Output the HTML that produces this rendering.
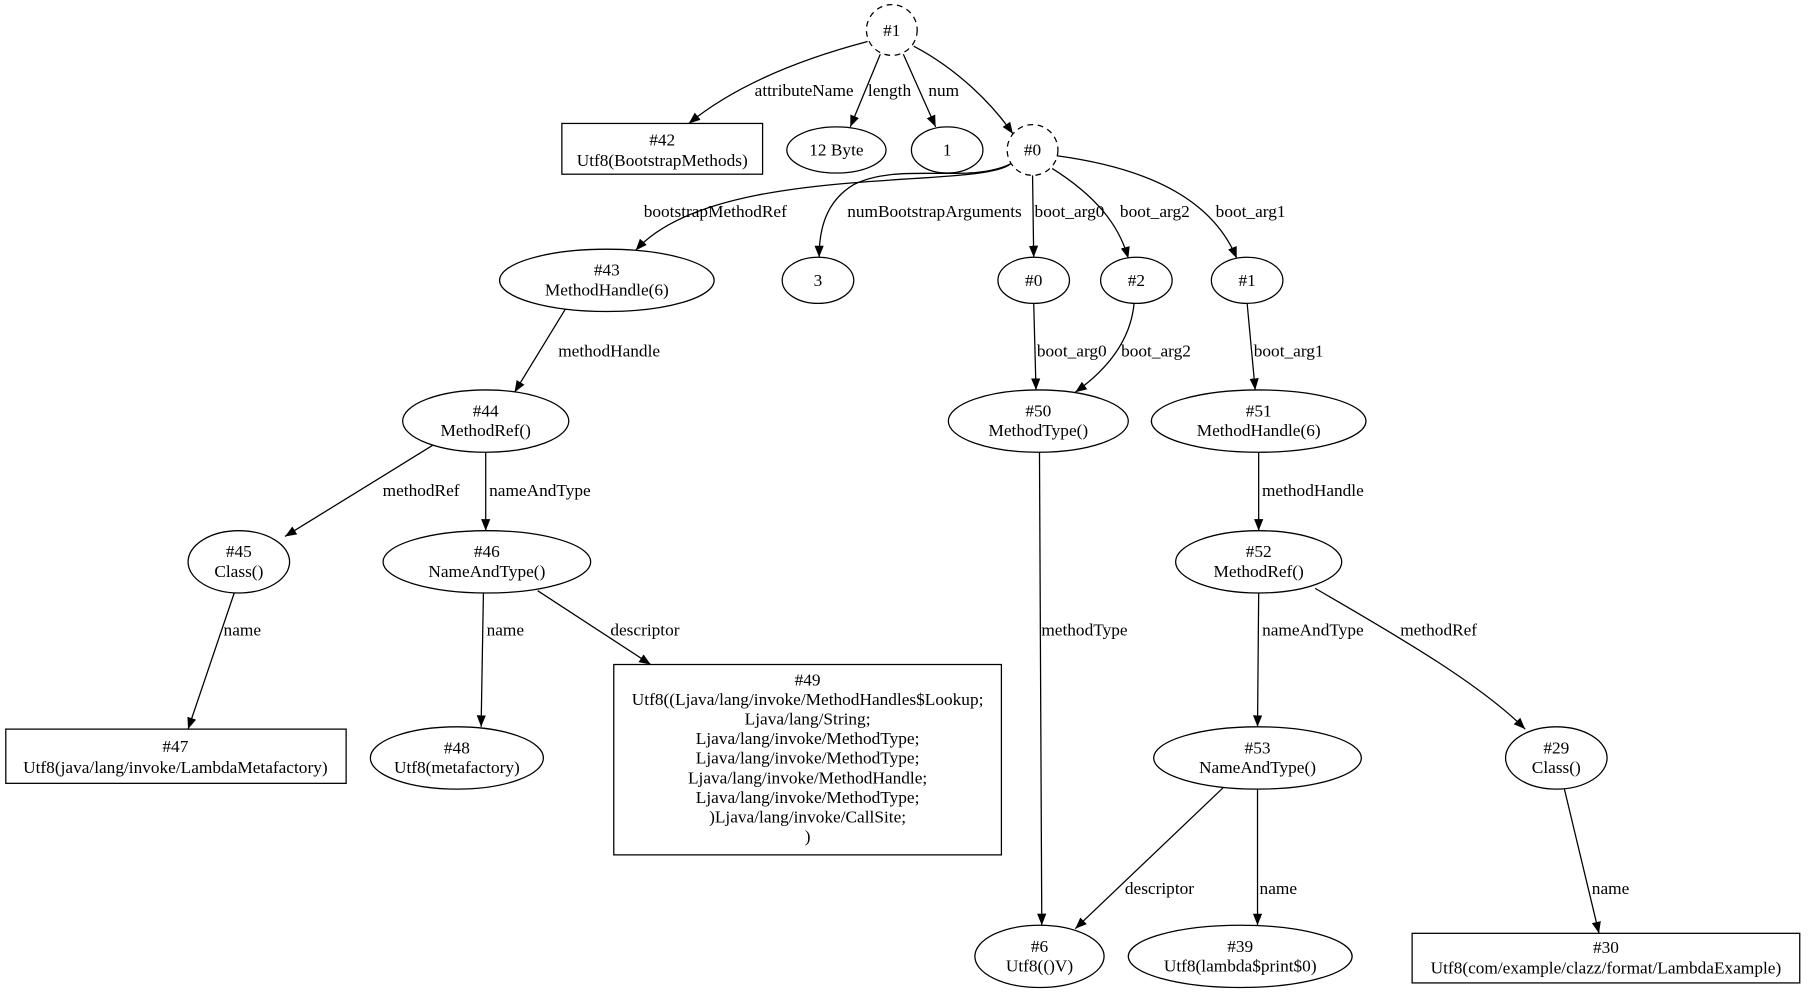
<!DOCTYPE html>
<html><head><meta charset="utf-8"><style>
html,body{margin:0;padding:0;background:#fff;}
svg{display:block;}
text{font-family:"Liberation Serif",serif;font-size:15px;fill:#000;}
</style></head><body>
<svg width="1809" height="1000" viewBox="0 0 1568 866.8" xmlns="http://www.w3.org/2000/svg">
<defs><marker id="a" viewBox="0 0 10 10" refX="10" refY="5" markerWidth="10" markerHeight="10" markerUnits="userSpaceOnUse" orient="auto"><path d="M0,1 L10,5 L0,9 z" fill="#000"/></marker></defs>
<g fill="none" stroke="#000" stroke-width="1.1">
<circle cx="773" cy="26" r="22" stroke-dasharray="5,4"/>
<circle cx="895" cy="130" r="22" stroke-dasharray="5,4"/>
<rect x="487" y="107" width="174" height="44"/>
<ellipse cx="725" cy="130" rx="43" ry="20"/>
<ellipse cx="821" cy="130" rx="31" ry="20"/>
<ellipse cx="526" cy="243" rx="93" ry="27"/>
<ellipse cx="709" cy="243" rx="31" ry="20"/>
<ellipse cx="896" cy="243" rx="31" ry="20"/>
<ellipse cx="985" cy="243" rx="31" ry="20"/>
<ellipse cx="1081" cy="243" rx="31" ry="20"/>
<ellipse cx="421" cy="365" rx="72" ry="27"/>
<ellipse cx="900" cy="365" rx="78" ry="27"/>
<ellipse cx="1091" cy="365" rx="93" ry="27"/>
<ellipse cx="207" cy="487" rx="44" ry="27"/>
<ellipse cx="422" cy="487" rx="90" ry="27"/>
<ellipse cx="1091" cy="487" rx="72" ry="27"/>
<rect x="5" y="632" width="295" height="47"/>
<ellipse cx="396" cy="657" rx="75" ry="27"/>
<rect x="532" y="576" width="336" height="165"/>
<ellipse cx="1090" cy="657" rx="90" ry="27"/>
<ellipse cx="1349" cy="657" rx="44" ry="27"/>
<ellipse cx="901" cy="829" rx="56" ry="27"/>
<ellipse cx="1075" cy="829" rx="97" ry="27"/>
<rect x="1224" y="809" width="336" height="43"/>
</g>
<g fill="none" stroke="#000" stroke-width="1.1" marker-end="url(#a)">
<path d="M752,36 C680,55 630,80 597,107"/>
<path d="M763,47 L737,110"/>
<path d="M783,47 L811,110"/>
<path d="M792,40 C830,60 860,90 878,116"/>
<path d="M876,142 C850,165 620,140 551,217"/>
<path d="M876,142 C840,160 780,140 740,160 C715,175 710,200 710,223"/>
<path d="M895,152 L896,223"/>
<path d="M912,146 C950,170 970,195 978,224"/>
<path d="M916,135 C990,145 1050,170 1072,224"/>
<path d="M490,268 L446,340"/>
<path d="M896,263 L898,338"/>
<path d="M983,263 C980,295 960,320 932,340"/>
<path d="M1081,263 L1088,338"/>
<path d="M375,386 L247,465"/>
<path d="M421,392 L421,460"/>
<path d="M1091,392 L1091,460"/>
<path d="M203,514 L163,632"/>
<path d="M419,514 L417,630"/>
<path d="M466,512 L564,576"/>
<path d="M901,392 L903,802"/>
<path d="M1091,514 L1090,630"/>
<path d="M1140,510 C1200,545 1280,590 1322,632"/>
<path d="M1060,683 L932,805"/>
<path d="M1090,684 L1090,802"/>
<path d="M1356,684 L1386,809"/>
</g>
<g text-anchor="middle">
<text x="773" y="31">#1</text>
<text x="895" y="135">#0</text>
<text x="574" y="126">#42</text><text x="574" y="144">Utf8(BootstrapMethods)</text>
<text x="725" y="135">12 Byte</text>
<text x="821" y="135">1</text>
<text x="526" y="239">#43</text><text x="526" y="256">MethodHandle(6)</text>
<text x="709" y="248">3</text>
<text x="896" y="248">#0</text>
<text x="985" y="248">#2</text>
<text x="1081" y="248">#1</text>
<text x="421" y="361">#44</text><text x="421" y="378">MethodRef()</text>
<text x="900" y="361">#50</text><text x="900" y="378">MethodType()</text>
<text x="1091" y="361">#51</text><text x="1091" y="378">MethodHandle(6)</text>
<text x="207" y="483">#45</text><text x="207" y="500">Class()</text>
<text x="422" y="483">#46</text><text x="422" y="500">NameAndType()</text>
<text x="1091" y="483">#52</text><text x="1091" y="500">MethodRef()</text>
<text x="152" y="652">#47</text><text x="152" y="670">Utf8(java/lang/invoke/LambdaMetafactory)</text>
<text x="396" y="653">#48</text><text x="396" y="670">Utf8(metafactory)</text>
<text x="700" y="594">#49</text>
<text x="700" y="611">Utf8((Ljava/lang/invoke/MethodHandles$Lookup;</text>
<text x="700" y="628">Ljava/lang/String;</text>
<text x="700" y="645">Ljava/lang/invoke/MethodType;</text>
<text x="700" y="662">Ljava/lang/invoke/MethodType;</text>
<text x="700" y="679">Ljava/lang/invoke/MethodHandle;</text>
<text x="700" y="696">Ljava/lang/invoke/MethodType;</text>
<text x="700" y="713">)Ljava/lang/invoke/CallSite;</text>
<text x="700" y="730">)</text>
<text x="1090" y="653">#53</text><text x="1090" y="670">NameAndType()</text>
<text x="1349" y="653">#29</text><text x="1349" y="670">Class()</text>
<text x="901" y="825">#6</text><text x="901" y="842">Utf8(()V)</text>
<text x="1075" y="825">#39</text><text x="1075" y="842">Utf8(lambda$print$0)</text>
<text x="1392" y="826">#30</text><text x="1392" y="844">Utf8(com/example/clazz/format/LambdaExample)</text>
</g>
<g text-anchor="middle">
<text x="697" y="83">attributeName</text>
<text x="771" y="83">length</text>
<text x="818" y="83">num</text>
<text x="620" y="188">bootstrapMethodRef</text>
<text x="810" y="188">numBootstrapArguments</text>
<text x="927" y="188">boot_arg0</text>
<text x="1001" y="188">boot_arg2</text>
<text x="1084" y="188">boot_arg1</text>
<text x="528" y="309">methodHandle</text>
<text x="929" y="309">boot_arg0</text>
<text x="1002" y="309">boot_arg2</text>
<text x="1117" y="309">boot_arg1</text>
<text x="365" y="430">methodRef</text>
<text x="468" y="430">nameAndType</text>
<text x="1138" y="430">methodHandle</text>
<text x="210" y="551">name</text>
<text x="438" y="551">name</text>
<text x="559" y="551">descriptor</text>
<text x="940" y="551">methodType</text>
<text x="1138" y="551">nameAndType</text>
<text x="1247" y="551">methodRef</text>
<text x="1005" y="775">descriptor</text>
<text x="1108" y="775">name</text>
<text x="1396" y="775">name</text>
</g>
</svg>
</body></html>
